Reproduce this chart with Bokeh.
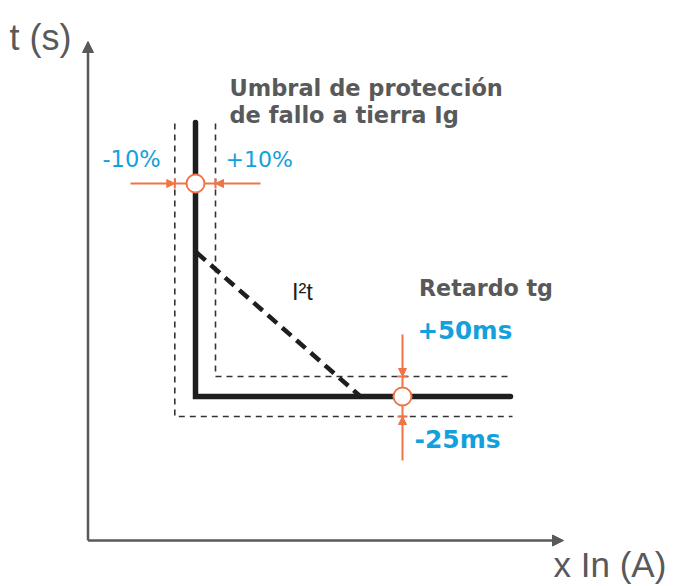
from bokeh.plotting import figure
from bokeh.models import Range1d, Arrow, NormalHead, TeeHead
from bokeh.core.properties import value
from bokeh.embed import file_html
from bokeh.resources import INLINE

# ---- schematic data (arbitrary units: current on x, time on y) ----
axis_x_end = 475.5
axis_y_end = 499

# main protection curve (threshold Ig then delay tg)
curve_x = [107.5, 107.5, 422.5]
curve_y = [418, 144, 144]

# tolerance bands
inner_x = [127.5, 127.5, 424.5]   # +10% / +50ms
inner_y = [417, 164, 164]
outer_x = [86.8, 86.8, 424.5]     # -10% / -25ms
outer_y = [417, 124, 124]

# I2t characteristic
i2t_x = [108.5, 272.5]
i2t_y = [288, 144]

# markers: threshold point and delay point
marker_x = [107.5, 314.5]
marker_y = [357, 144]

# tolerance arrows
h_arrow_y = 357
h_arrow_left = [42.5, 86.8]     # start, tip
h_arrow_right = [172.5, 127.5]
v_arrow_x = 314.5
v_arrow_top = [206, 164]
v_arrow_bottom = [80, 124]

GRAY = "#58595b"
BLACK = "#1e1e1e"
ORANGE = "#ef7548"
BLUE = "#14a0dc"
FONT = "Liberation Sans"
WIDE = "DejaVu Sans"

p = figure(width=679, height=586, x_range=Range1d(-87.5, 591.5), y_range=Range1d(-46, 540),
           output_backend="svg", toolbar_location=None, x_axis_type=None, y_axis_type=None,
           min_border=0, outline_line_color=None)
p.grid.visible = False
p.background_fill_color = "white"

# axes with arrow heads
for xs, ys, xe, ye in [(0, 0, 0, axis_y_end), (0, 0, axis_x_end, 0)]:
    p.add_layout(Arrow(x_start=xs, y_start=ys, x_end=xe, y_end=ye, line_color=GRAY, line_width=2.5,
                       end=NormalHead(size=11, fill_color=GRAY, line_color=GRAY, line_width=1)))

# tolerance bands
p.line(inner_x, inner_y, line_color="#333333", line_width=1.6, line_dash="6 5")
p.line(outer_x, outer_y, line_color="#333333", line_width=1.6, line_dash="6 5")

# I2t
p.line(i2t_x, i2t_y, line_color=BLACK, line_width=4.5, line_dash="12 7")

# main curve
p.line(curve_x, curve_y, line_color=BLACK, line_width=5.5, line_cap="round", line_join="miter")

# orange connecting segments under the markers
p.segment(x0=[outer_x[0], v_arrow_x], y0=[h_arrow_y, outer_y[1]],
          x1=[inner_x[0], v_arrow_x], y1=[h_arrow_y, inner_y[1]], line_color=ORANGE, line_width=2)

p.scatter(marker_x, marker_y, marker="circle", size=18, fill_color="white",
          line_color=ORANGE, line_width=2)

# tolerance arrows
arrows = [
    (h_arrow_left[0], h_arrow_y, h_arrow_left[1], h_arrow_y),
    (h_arrow_right[0], h_arrow_y, h_arrow_right[1], h_arrow_y),
    (v_arrow_x, v_arrow_top[0], v_arrow_x, v_arrow_top[1]),
    (v_arrow_x, v_arrow_bottom[0], v_arrow_x, v_arrow_bottom[1]),
]
for xs, ys, xe, ye in arrows:
    p.add_layout(Arrow(x_start=xs, y_start=ys, x_end=xe, y_end=ye, line_color=ORANGE, line_width=2,
                       end=NormalHead(size=8, fill_color=ORANGE, line_color=ORANGE, line_width=1)))
    p.add_layout(Arrow(x_start=xs, y_start=ys, x_end=xe, y_end=ye, line_alpha=0,
                       end=TeeHead(size=10, line_color=ORANGE, line_width=2)))

# texts
def txt(x, y, s, size, color, bold=False, font=FONT):
    p.text(x=[x], y=[y], text=[s], text_font=value(font), text_font_size=f"{size}px",
           text_color=color, text_font_style="bold" if bold else "normal",
           text_baseline="alphabetic", text_align="left")

txt(-78.5, 503, "t (s)", 36, GRAY)
txt(465.5, -24, "x In (A)", 35, GRAY)
txt(141.5, 453, "Umbral de protección", 22.5, GRAY, True, WIDE)
txt(141.5, 426, "de fallo a tierra Ig", 22.5, GRAY, True, WIDE)
txt(14.5, 382, "-10%", 22.5, BLUE, False, WIDE)
txt(137.5, 381, "+10%", 22, BLUE, False, WIDE)
txt(204, 249, "I²t", 23.5, BLACK)
txt(331, 253, "Retardo tg", 22.2, GRAY, True, WIDE)
txt(329.5, 210, "+50ms", 24.5, BLUE, True, WIDE)
txt(326.5, 101, "-25ms", 25, BLUE, True, WIDE)

open("out.html", "w").write(file_html(p, INLINE))
